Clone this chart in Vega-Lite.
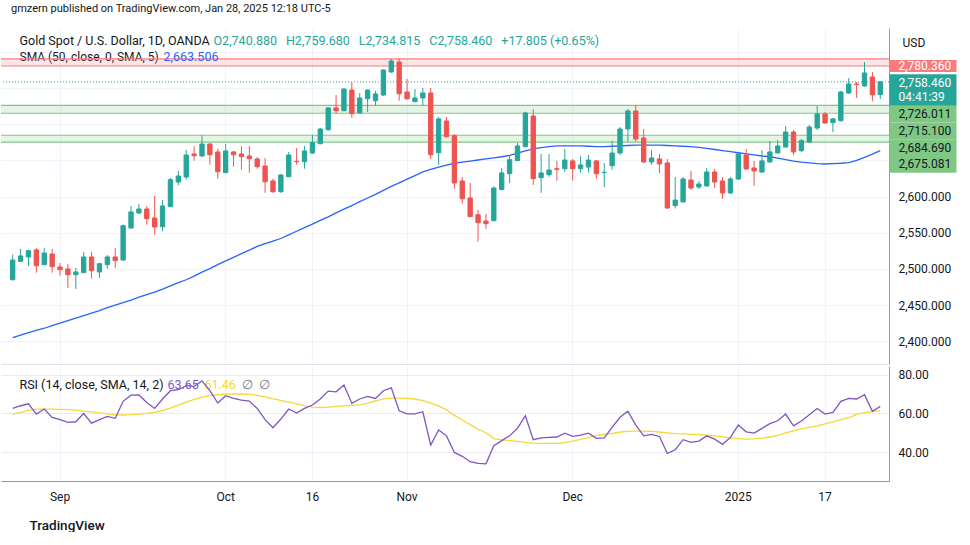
{
"$schema":"https://vega.github.io/schema/vega-lite/v6.json",
"background":"white",
"padding":{"left":0,"top":3,"right":0,"bottom":0},
"title":{"text":"gmzern published on TradingView.com, Jan 28, 2025 12:18 UTC-5","anchor":"start","dx":10,"fontSize":11,"font":"Roboto","fontWeight":"normal","color":"#131722","offset":14,"frame":"group"},
"spacing":2,
"config":{"view":{"stroke":null},"font":"Roboto","axis":{"labelFont":"Roboto","labelFontSize":12,"labelColor":"#131722","titleFont":"Roboto","titleFontWeight":"normal","titleFontSize":12.5,"ticks":false,"domain":false,"grid":false,"labelPadding":9},"title":{"font":"Roboto","fontWeight":"normal"}},
"datasets":{
"levels":[{"lo":2780.36,"hi":2790.1,"kind":"res"},{"lo":2715.1,"hi":2726.011,"kind":"sup"},{"lo":2675.081,"hi":2684.69,"kind":"sup"}],
"candles":[
{"d":"2024-08-23","o":2485.1,"h":2519.7,"l":2484.0,"c":2512.3,"sma":2405,"rsi":62.6,"rsima":59.7},
{"d":"2024-08-26","o":2510.5,"h":2527.5,"l":2509.6,"c":2517.9,"sma":2408.5,"rsi":64.0,"rsima":60.5},
{"d":"2024-08-27","o":2516.5,"h":2526.2,"l":2504.0,"c":2525.2,"sma":2412,"rsi":65.0,"rsima":61.7},
{"d":"2024-08-28","o":2526.2,"h":2528.9,"l":2494.8,"c":2504.4,"sma":2415,"rsi":59.7,"rsima":62.3},
{"d":"2024-08-29","o":2505.8,"h":2528.9,"l":2505.0,"c":2522.0,"sma":2418,"rsi":62.3,"rsima":62.3},
{"d":"2024-08-30","o":2520.6,"h":2527.5,"l":2494.8,"c":2503.1,"sma":2421.5,"rsi":58.0,"rsima":62.2},
{"d":"2024-09-02","o":2502.7,"h":2508.2,"l":2490.6,"c":2498.9,"sma":2425,"rsi":56.8,"rsima":62.1},
{"d":"2024-09-03","o":2499.9,"h":2506.8,"l":2473.6,"c":2492.0,"sma":2428.5,"rsi":55.4,"rsima":62.0},
{"d":"2024-09-04","o":2492.0,"h":2501.3,"l":2472.3,"c":2495.8,"sma":2432,"rsi":55.7,"rsima":61.7},
{"d":"2024-09-05","o":2494.8,"h":2523.4,"l":2494.4,"c":2516.5,"sma":2435.5,"rsi":60.0,"rsima":61.2},
{"d":"2024-09-06","o":2516.5,"h":2523.4,"l":2486.5,"c":2497.5,"sma":2439,"rsi":55.0,"rsima":60.8},
{"d":"2024-09-09","o":2495.8,"h":2508.2,"l":2487.5,"c":2507.2,"sma":2442.5,"rsi":56.8,"rsima":60.3},
{"d":"2024-09-10","o":2506.0,"h":2519.2,"l":2500.3,"c":2516.5,"sma":2446.5,"rsi":58.5,"rsima":59.8},
{"d":"2024-09-11","o":2516.5,"h":2528.9,"l":2501.3,"c":2511.4,"sma":2450,"rsi":57.5,"rsima":59.3},
{"d":"2024-09-12","o":2512.3,"h":2561.1,"l":2511.4,"c":2559.7,"sma":2453.5,"rsi":66.3,"rsima":59.2},
{"d":"2024-09-13","o":2556.5,"h":2587.0,"l":2556.0,"c":2578.7,"sma":2457,"rsi":69.5,"rsima":59.4},
{"d":"2024-09-16","o":2577.3,"h":2589.7,"l":2575.9,"c":2582.8,"sma":2461,"rsi":69.6,"rsima":59.7},
{"d":"2024-09-17","o":2582.8,"h":2587.0,"l":2561.1,"c":2569.4,"sma":2464.5,"rsi":65.7,"rsima":60.1},
{"d":"2024-09-18","o":2570.4,"h":2600.8,"l":2547.3,"c":2557.9,"sma":2468,"rsi":62.6,"rsima":60.6},
{"d":"2024-09-19","o":2558.3,"h":2595.2,"l":2552.0,"c":2587.0,"sma":2472,"rsi":67.5,"rsima":61.6},
{"d":"2024-09-20","o":2586.0,"h":2625.6,"l":2585.5,"c":2623.3,"sma":2476.5,"rsi":71.8,"rsima":62.8},
{"d":"2024-09-23","o":2620.1,"h":2635.3,"l":2615.7,"c":2628.4,"sma":2481,"rsi":72.3,"rsima":64.3},
{"d":"2024-09-24","o":2627.0,"h":2664.3,"l":2623.3,"c":2657.4,"sma":2485,"rsi":74.4,"rsima":65.9},
{"d":"2024-09-25","o":2658.8,"h":2669.4,"l":2649.5,"c":2656.5,"sma":2490,"rsi":74.0,"rsima":67.3},
{"d":"2024-09-26","o":2656.0,"h":2684.6,"l":2655.1,"c":2672.6,"sma":2495.5,"rsi":76.9,"rsima":68.5},
{"d":"2024-09-27","o":2672.6,"h":2674.0,"l":2644.0,"c":2657.8,"sma":2500.5,"rsi":71.8,"rsima":69.2},
{"d":"2024-09-30","o":2661.6,"h":2666.1,"l":2624.7,"c":2634.3,"sma":2506,"rsi":65.4,"rsima":69.7},
{"d":"2024-10-01","o":2633.0,"h":2672.6,"l":2632.5,"c":2663.0,"sma":2511,"rsi":69.2,"rsima":70.0},
{"d":"2024-10-02","o":2661.6,"h":2663.0,"l":2641.3,"c":2657.8,"sma":2516,"rsi":67.8,"rsima":70.1},
{"d":"2024-10-03","o":2658.8,"h":2669.9,"l":2637.1,"c":2655.1,"sma":2521,"rsi":66.9,"rsima":70.1},
{"d":"2024-10-04","o":2656.0,"h":2669.9,"l":2633.0,"c":2652.3,"sma":2526,"rsi":66.4,"rsima":69.9},
{"d":"2024-10-07","o":2651.9,"h":2654.7,"l":2638.5,"c":2641.3,"sma":2531,"rsi":62.6,"rsima":69.4},
{"d":"2024-10-08","o":2642.2,"h":2653.3,"l":2605.1,"c":2620.5,"sma":2535,"rsi":56.8,"rsima":68.6},
{"d":"2024-10-09","o":2621.5,"h":2624.7,"l":2605.1,"c":2606.7,"sma":2538.5,"rsi":52.6,"rsima":67.6},
{"d":"2024-10-10","o":2606.7,"h":2631.2,"l":2605.1,"c":2629.8,"sma":2542,"rsi":57.1,"rsima":66.8},
{"d":"2024-10-11","o":2627.4,"h":2661.6,"l":2627.0,"c":2657.4,"sma":2547,"rsi":62.3,"rsima":65.9},
{"d":"2024-10-14","o":2648.7,"h":2667.1,"l":2644.0,"c":2648.2,"sma":2552,"rsi":60.2,"rsima":65.0},
{"d":"2024-10-15","o":2648.2,"h":2669.9,"l":2638.5,"c":2663.0,"sma":2557,"rsi":62.6,"rsima":64.1},
{"d":"2024-10-16","o":2660.2,"h":2685.5,"l":2658.8,"c":2674.4,"sma":2562,"rsi":64.4,"rsima":63.3},
{"d":"2024-10-17","o":2673.1,"h":2695.0,"l":2672.0,"c":2693.3,"sma":2567,"rsi":67.5,"rsima":63.1},
{"d":"2024-10-18","o":2692.4,"h":2723.0,"l":2691.0,"c":2722.4,"sma":2572,"rsi":71.6,"rsima":63.3},
{"d":"2024-10-21","o":2722.4,"h":2740.3,"l":2714.5,"c":2718.6,"sma":2577.5,"rsi":71.2,"rsima":63.6},
{"d":"2024-10-22","o":2718.6,"h":2749.5,"l":2718.0,"c":2748.6,"sma":2582.5,"rsi":74.7,"rsima":63.9},
{"d":"2024-10-23","o":2747.2,"h":2757.9,"l":2709.0,"c":2714.5,"sma":2587.5,"rsi":65.2,"rsima":64.2},
{"d":"2024-10-24","o":2715.5,"h":2743.1,"l":2715.0,"c":2736.2,"sma":2593,"rsi":67.5,"rsima":64.5},
{"d":"2024-10-25","o":2735.2,"h":2747.8,"l":2716.8,"c":2747.2,"sma":2598,"rsi":68.8,"rsima":65.4},
{"d":"2024-10-28","o":2732.5,"h":2745.9,"l":2725.5,"c":2741.7,"sma":2603,"rsi":67.8,"rsima":66.5},
{"d":"2024-10-29","o":2740.3,"h":2775.5,"l":2739.0,"c":2774.9,"sma":2608.5,"rsi":71.8,"rsima":67.6},
{"d":"2024-10-30","o":2772.1,"h":2790.1,"l":2770.7,"c":2787.3,"sma":2614,"rsi":73.3,"rsima":67.9},
{"d":"2024-10-31","o":2785.9,"h":2790.1,"l":2732.5,"c":2742.1,"sma":2619,"rsi":61.4,"rsima":67.9},
{"d":"2024-11-01","o":2744.5,"h":2762.4,"l":2733.8,"c":2735.2,"sma":2624,"rsi":59.8,"rsima":67.8},
{"d":"2024-11-04","o":2731.1,"h":2748.6,"l":2730.5,"c":2736.2,"sma":2629,"rsi":59.8,"rsima":67.5},
{"d":"2024-11-05","o":2736.2,"h":2750.0,"l":2725.5,"c":2743.1,"sma":2634,"rsi":60.9,"rsima":66.6},
{"d":"2024-11-06","o":2743.1,"h":2750.0,"l":2651.9,"c":2657.8,"sma":2637.5,"rsi":43.6,"rsima":65.4},
{"d":"2024-11-07","o":2660.6,"h":2709.9,"l":2643.6,"c":2707.2,"sma":2640.5,"rsi":51.5,"rsima":63.9},
{"d":"2024-11-08","o":2704.4,"h":2709.9,"l":2681.4,"c":2682.7,"sma":2643.5,"rsi":48.4,"rsima":61.9},
{"d":"2024-11-11","o":2684.1,"h":2686.4,"l":2610.8,"c":2618.7,"sma":2646,"rsi":39.8,"rsima":59.0},
{"d":"2024-11-12","o":2621.5,"h":2627.0,"l":2590.1,"c":2597.0,"sma":2647.5,"rsi":37.8,"rsima":56.6},
{"d":"2024-11-13","o":2598.0,"h":2618.7,"l":2572.0,"c":2572.2,"sma":2649,"rsi":35.0,"rsima":54.2},
{"d":"2024-11-14","o":2574.9,"h":2581.8,"l":2537.6,"c":2563.9,"sma":2650.5,"rsi":34.1,"rsima":51.8},
{"d":"2024-11-15","o":2566.2,"h":2575.9,"l":2555.6,"c":2562.5,"sma":2652,"rsi":33.9,"rsima":50.0},
{"d":"2024-11-18","o":2566.6,"h":2614.2,"l":2566.0,"c":2611.8,"sma":2653.5,"rsi":43.3,"rsima":47.0},
{"d":"2024-11-19","o":2609.5,"h":2639.5,"l":2609.0,"c":2632.6,"sma":2655,"rsi":45.9,"rsima":46.3},
{"d":"2024-11-20","o":2631.6,"h":2656.4,"l":2618.7,"c":2650.9,"sma":2657,"rsi":48.4,"rsima":45.9},
{"d":"2024-11-21","o":2649.7,"h":2674.0,"l":2649.0,"c":2669.9,"sma":2660,"rsi":52.3,"rsima":45.5},
{"d":"2024-11-22","o":2668.9,"h":2717.3,"l":2668.0,"c":2715.5,"sma":2663,"rsi":58.8,"rsima":45.0},
{"d":"2024-11-25","o":2711.3,"h":2721.0,"l":2616.0,"c":2624.7,"sma":2666,"rsi":46.4,"rsima":44.6},
{"d":"2024-11-26","o":2626.1,"h":2658.8,"l":2605.1,"c":2632.6,"sma":2667.5,"rsi":47.3,"rsima":44.5},
{"d":"2024-11-27","o":2630.2,"h":2658.8,"l":2627.4,"c":2636.7,"sma":2669,"rsi":47.6,"rsima":44.5},
{"d":"2024-11-28","o":2638.5,"h":2649.2,"l":2621.9,"c":2637.6,"sma":2670,"rsi":47.8,"rsima":44.5},
{"d":"2024-11-29","o":2638.5,"h":2665.7,"l":2634.3,"c":2650.5,"sma":2670,"rsi":49.8,"rsima":44.9},
{"d":"2024-12-02","o":2649.2,"h":2651.9,"l":2621.9,"c":2638.5,"sma":2670,"rsi":48.1,"rsima":45.7},
{"d":"2024-12-03","o":2638.5,"h":2655.9,"l":2633.0,"c":2643.6,"sma":2670,"rsi":48.8,"rsima":46.6},
{"d":"2024-12-04","o":2640.8,"h":2657.4,"l":2633.0,"c":2650.5,"sma":2669.5,"rsi":49.8,"rsima":47.6},
{"d":"2024-12-05","o":2649.2,"h":2650.5,"l":2624.7,"c":2631.6,"sma":2669,"rsi":47.1,"rsima":48.5},
{"d":"2024-12-06","o":2633.0,"h":2646.3,"l":2613.2,"c":2633.5,"sma":2669,"rsi":47.3,"rsima":49.1},
{"d":"2024-12-09","o":2642.6,"h":2677.2,"l":2637.1,"c":2660.2,"sma":2669.5,"rsi":52.8,"rsima":49.7},
{"d":"2024-12-10","o":2660.2,"h":2696.1,"l":2657.4,"c":2693.3,"sma":2670,"rsi":58.0,"rsima":50.4},
{"d":"2024-12-11","o":2693.3,"h":2721.0,"l":2675.8,"c":2718.2,"sma":2670.5,"rsi":61.2,"rsima":50.7},
{"d":"2024-12-12","o":2718.2,"h":2726.5,"l":2675.8,"c":2679.5,"sma":2671,"rsi":54.0,"rsima":50.8},
{"d":"2024-12-13","o":2680.9,"h":2693.3,"l":2646.4,"c":2647.8,"sma":2671,"rsi":48.4,"rsima":50.8},
{"d":"2024-12-16","o":2647.8,"h":2664.3,"l":2643.6,"c":2653.3,"sma":2671,"rsi":49.2,"rsima":50.7},
{"d":"2024-12-17","o":2651.9,"h":2658.8,"l":2632.5,"c":2645.0,"sma":2671,"rsi":48.1,"rsima":50.4},
{"d":"2024-12-18","o":2646.4,"h":2651.9,"l":2583.0,"c":2584.2,"sma":2670.5,"rsi":39.3,"rsima":49.9},
{"d":"2024-12-19","o":2587.5,"h":2627.0,"l":2583.5,"c":2595.2,"sma":2670,"rsi":41.2,"rsima":49.6},
{"d":"2024-12-20","o":2592.5,"h":2627.0,"l":2592.0,"c":2624.3,"sma":2669.5,"rsi":46.4,"rsima":49.4},
{"d":"2024-12-23","o":2622.9,"h":2635.3,"l":2609.1,"c":2611.8,"sma":2669,"rsi":45.0,"rsima":49.2},
{"d":"2024-12-24","o":2613.2,"h":2621.5,"l":2610.4,"c":2617.3,"sma":2668,"rsi":45.7,"rsima":49.0},
{"d":"2024-12-26","o":2614.6,"h":2639.5,"l":2614.0,"c":2633.9,"sma":2666.5,"rsi":48.4,"rsima":48.8},
{"d":"2024-12-27","o":2633.9,"h":2638.1,"l":2611.8,"c":2620.1,"sma":2665,"rsi":46.7,"rsima":48.4},
{"d":"2024-12-30","o":2621.5,"h":2627.0,"l":2596.6,"c":2604.9,"sma":2663.5,"rsi":44.0,"rsima":47.9},
{"d":"2024-12-31","o":2604.9,"h":2627.0,"l":2603.5,"c":2624.3,"sma":2662,"rsi":47.6,"rsima":47.4},
{"d":"2025-01-02","o":2624.3,"h":2660.2,"l":2623.0,"c":2658.8,"sma":2660.5,"rsi":54.0,"rsima":47.0},
{"d":"2025-01-03","o":2657.4,"h":2665.7,"l":2636.7,"c":2638.1,"sma":2659,"rsi":50.5,"rsima":46.7},
{"d":"2025-01-06","o":2639.5,"h":2649.2,"l":2614.6,"c":2635.3,"sma":2657.5,"rsi":49.8,"rsima":46.8},
{"d":"2025-01-07","o":2633.9,"h":2664.3,"l":2632.5,"c":2649.2,"sma":2656,"rsi":52.3,"rsima":47.2},
{"d":"2025-01-08","o":2647.8,"h":2676.8,"l":2646.4,"c":2661.6,"sma":2655,"rsi":54.7,"rsima":47.8},
{"d":"2025-01-09","o":2660.2,"h":2678.2,"l":2660.0,"c":2669.9,"sma":2653,"rsi":56.2,"rsima":48.7},
{"d":"2025-01-10","o":2668.5,"h":2697.5,"l":2668.0,"c":2689.2,"sma":2651,"rsi":59.7,"rsima":49.9},
{"d":"2025-01-13","o":2689.2,"h":2691.9,"l":2657.4,"c":2661.6,"sma":2649,"rsi":53.6,"rsima":51.0},
{"d":"2025-01-14","o":2663.4,"h":2679.5,"l":2661.6,"c":2677.2,"sma":2647.5,"rsi":56.1,"rsima":52.0},
{"d":"2025-01-15","o":2675.4,"h":2698.9,"l":2674.0,"c":2696.1,"sma":2646.5,"rsi":59.3,"rsima":52.8},
{"d":"2025-01-16","o":2694.7,"h":2725.1,"l":2691.9,"c":2714.1,"sma":2645.5,"rsi":62.6,"rsima":53.6},
{"d":"2025-01-17","o":2714.1,"h":2716.8,"l":2701.0,"c":2701.6,"sma":2645,"rsi":59.7,"rsima":54.6},
{"d":"2025-01-20","o":2702.1,"h":2708.5,"l":2689.2,"c":2707.2,"sma":2645.5,"rsi":60.6,"rsima":55.7},
{"d":"2025-01-21","o":2704.8,"h":2745.9,"l":2703.5,"c":2744.5,"sma":2646,"rsi":66.3,"rsima":56.8},
{"d":"2025-01-22","o":2743.1,"h":2763.8,"l":2741.7,"c":2755.5,"sma":2647,"rsi":67.8,"rsima":57.9},
{"d":"2025-01-23","o":2755.5,"h":2758.3,"l":2736.2,"c":2754.7,"sma":2650,"rsi":67.5,"rsima":59.5},
{"d":"2025-01-24","o":2752.8,"h":2785.9,"l":2752.0,"c":2770.7,"sma":2654,"rsi":69.7,"rsima":60.4},
{"d":"2025-01-27","o":2765.2,"h":2772.1,"l":2731.6,"c":2740.66,"sma":2658.5,"rsi":61.1,"rsima":61.0},
{"d":"2025-01-28","o":2740.88,"h":2759.68,"l":2734.815,"c":2758.46,"sma":2663.506,"rsi":63.65,"rsima":61.46}
]},
"vconcat":[
{
"width":888,"height":336,
"resolve":{"axis":{"x":"independent","y":"independent"}},
"layer":[
{"data":{"name":"levels"},"mark":{"type":"rect","opacity":0.2},
 "encoding":{"y":{"field":"lo","type":"quantitative","scale":{"domain":[2368.6,2832.9],"nice":false,"zero":false},"axis":null},"y2":{"field":"hi"},
 "fill":{"condition":{"test":"datum.kind == 'res'","value":"#f77c80"},"value":"#81c784"}}},
{"data":{"name":"levels"},"mark":{"type":"rule","strokeWidth":1.2},
 "encoding":{"y":{"field":"lo","type":"quantitative","scale":{"domain":[2368.6,2832.9],"nice":false,"zero":false},"axis":null},
 "color":{"condition":{"test":"datum.kind == 'res'","value":"#f77c80"},"value":"#81c784"}}},
{"data":{"name":"levels"},"mark":{"type":"rule","strokeWidth":1.2},
 "encoding":{"y":{"field":"hi","type":"quantitative","scale":{"domain":[2368.6,2832.9],"nice":false,"zero":false},"axis":null},
 "color":{"condition":{"test":"datum.kind == 'res'","value":"#f77c80"},"value":"#81c784"}}},
{"data":{"name":"candles"},"mark":{"type":"line","color":"#2962ff","strokeWidth":1.3},
 "encoding":{
 "x":{"field":"d","type":"ordinal","scale":{"type":"band","paddingInner":0,"paddingOuter":0.795,"align":0.619},
  "axis":{"orient":"bottom","values":["2024-09-02","2024-10-01","2024-10-16","2024-11-01","2024-12-02","2025-01-02","2025-01-17"],"bandPosition":0.5,"labels":false,"grid":true,"gridColor":"#f0f3fa","domain":true,"domainColor":"#e0e3eb",
  "title":"O2,740.880\u2002\u2009H2,759.680\u2002\u2009L2,734.815\u2002\u2009C2,758.460\u2002\u2009+17.805 (+0.65%)","titleX":212,"titleY":-323.5,"titleAlign":"left","titleBaseline":"middle","titleAngle":0,"titleColor":"#26a69a","titleFontSize":12.5}},
 "y":{"field":"sma","type":"quantitative","scale":{"domain":[2368.6,2832.9],"nice":false,"zero":false},
  "axis":{"orient":"right","values":[2400,2450,2500,2550,2600,2650,2700,2750,2800],"labelExpr":"datum.value <= 2600 ? format(datum.value, ',.3f') : ''","grid":true,"gridColor":"#f0f3fa","domain":true,"domainColor":"#9598a1","labelAlign":"left","labelBaseline":"middle","labelOverlap":false,
  "title":"USD","titleX":13,"titleY":14,"titleAngle":0,"titleAlign":"left","titleBaseline":"middle","titleColor":"#131722","titleFontSize":12}}}},
{"data":{"name":"candles"},"transform":[{"filter":"datum.d == '2025-01-28'"}],"mark":{"type":"rule","color":"#26a69a","strokeDash":[1,2],"strokeWidth":1},
 "encoding":{"y":{"field":"c","type":"quantitative","scale":{"domain":[2368.6,2832.9],"nice":false,"zero":false},
  "axis":{"orient":"right","zindex":1,"values":[2781.09,2747.93,2714.56,2691.48,2668.41,2645.33],
  "labelExpr":"datum.value > 2770 ? '2,780.360' : datum.value > 2730 ? ['2,758.460', '04:41:39'] : datum.value > 2700 ? '2,726.011' : datum.value > 2680 ? '2,715.100' : datum.value > 2655 ? '2,684.690' : '2,675.081'",
  "ticks":true,"tickSize":67,"tickCap":"butt","tickRound":false,
  "tickWidth":{"condition":[{"test":"datum.value > 2770","value":12},{"test":"datum.value > 2730","value":31.6}],"value":16.8},
  "tickColor":{"condition":[{"test":"datum.value > 2770","value":"#f77c80"},{"test":"datum.value > 2730","value":"#26a69a"}],"value":"#81c784"},
  "labelPadding":-58,"labelAlign":"left","labelBaseline":"middle","labelLineHeight":13.4,"labelOverlap":false,
  "labelOffset":{"condition":{"test":"datum.value > 2730 && datum.value < 2770","value":-6.7},"value":0},
  "labelColor":{"condition":{"test":"datum.value > 2730","value":"#ffffff"},"value":"#131722"},
  "grid":false,"domain":false,
  "title":"2,663.506","titleX":-726,"titleY":28.3,"titleAngle":0,"titleAlign":"left","titleBaseline":"middle","titleColor":"#2962ff","titleFontSize":12.5}}}},
{"data":{"name":"candles"},"mark":{"type":"rule","strokeWidth":1},
 "encoding":{
 "x":{"field":"d","type":"ordinal","scale":{"type":"band","paddingInner":0,"paddingOuter":0.795,"align":0.619},
  "axis":{"orient":"bottom","labels":false,"grid":false,"domain":false,"title":"Gold Spot / U.S. Dollar, 1D, OANDA","titleX":18,"titleY":-323.5,"titleAlign":"left","titleBaseline":"middle","titleAngle":0,"titleColor":"#131722","titleFontSize":12.5}},
 "y":{"field":"l","type":"quantitative","scale":{"domain":[2368.6,2832.9],"nice":false,"zero":false},"axis":null},"y2":{"field":"h"},
 "color":{"condition":{"test":"datum.c >= datum.o","value":"#26a69a"},"value":"#ef5350"}}},
{"data":{"name":"candles"},"mark":{"type":"bar","width":{"band":0.55},"strokeWidth":1},
 "encoding":{
 "x":{"field":"d","type":"ordinal","scale":{"type":"band","paddingInner":0,"paddingOuter":0.795,"align":0.619},
  "axis":{"orient":"bottom","labels":false,"grid":false,"domain":false,"title":"SMA (50, close, 0, SMA, 5)","titleX":18,"titleY":-307.7,"titleAlign":"left","titleBaseline":"middle","titleAngle":0,"titleColor":"#131722","titleFontSize":12}},
 "y":{"field":"o","type":"quantitative","scale":{"domain":[2368.6,2832.9],"nice":false,"zero":false},"axis":null},"y2":{"field":"c"},
 "fill":{"condition":{"test":"datum.c >= datum.o","value":"#26a69a"},"value":"#ef5350"},
 "stroke":{"condition":{"test":"datum.c >= datum.o","value":"#26a69a"},"value":"#ef5350"}}}
]},
{
"width":888,"height":115,
"resolve":{"axis":{"x":"independent","y":"independent"}},
"layer":[
{"mark":{"type":"rect","fill":"#7e57c2","opacity":0.1},
 "encoding":{"y":{"datum":70,"type":"quantitative","scale":{"domain":[25,84.6],"nice":false,"zero":false},
  "axis":{"orient":"right","labels":false,"grid":false,"domain":false,"title":"RSI (14, close, SMA, 14, 2)","titleX":-870,"titleY":18,"titleAngle":0,"titleAlign":"left","titleBaseline":"middle","titleColor":"#131722","titleFontSize":12.5}},"y2":{"datum":30}}},
{"mark":{"type":"rule","color":"#787b86","strokeDash":[4,3],"strokeWidth":1},
 "encoding":{"y":{"datum":70,"type":"quantitative","scale":{"domain":[25,84.6],"nice":false,"zero":false},"axis":null}}},
{"mark":{"type":"rule","color":"#787b86","strokeDash":[4,3],"strokeWidth":1},
 "encoding":{"y":{"datum":30,"type":"quantitative","scale":{"domain":[25,84.6],"nice":false,"zero":false},"axis":null}}},
{"mark":{"type":"rule","color":"#787b86","opacity":0.5,"strokeDash":[4,4],"strokeWidth":1},
 "encoding":{"y":{"datum":50,"type":"quantitative","scale":{"domain":[25,84.6],"nice":false,"zero":false},
  "axis":{"orient":"right","labels":false,"grid":false,"domain":false,"title":"∅\u2002∅","titleX":-648,"titleY":18,"titleAngle":0,"titleAlign":"left","titleBaseline":"middle","titleColor":"#787b86","titleFontSize":12.5}}}},
{"data":{"name":"candles"},"mark":{"type":"line","color":"#f5d835","strokeWidth":1.3},
 "encoding":{
 "x":{"field":"d","type":"ordinal","scale":{"type":"band","paddingInner":0,"paddingOuter":0.795,"align":0.619},"axis":null},
 "y":{"field":"rsima","type":"quantitative","scale":{"domain":[25,84.6],"nice":false,"zero":false},
  "axis":{"orient":"right","labels":false,"grid":false,"domain":false,"title":"61.46","titleX":-685,"titleY":18,"titleAngle":0,"titleAlign":"left","titleBaseline":"middle","titleColor":"#f5d835","titleFontSize":12.5}}}},
{"data":{"name":"candles"},"mark":{"type":"line","color":"#7e57c2","strokeWidth":1.3},
 "encoding":{
 "x":{"field":"d","type":"ordinal","scale":{"type":"band","paddingInner":0,"paddingOuter":0.795,"align":0.619},
  "axis":{"orient":"bottom","values":["2024-09-02","2024-10-01","2024-10-16","2024-11-01","2024-12-02","2025-01-02","2025-01-17"],"bandPosition":0.5,
  "labelExpr":"datum.value == '2024-09-02' ? 'Sep' : datum.value == '2024-10-01' ? 'Oct' : datum.value == '2024-10-16' ? '16' : datum.value == '2024-11-01' ? 'Nov' : datum.value == '2024-12-02' ? 'Dec' : datum.value == '2025-01-02' ? '2025' : '17'",
  "labelAngle":0,"labelPadding":10,"labelBaseline":"top","labelAlign":"center","grid":true,"gridColor":"#f0f3fa","domain":true,"domainColor":"#9598a1",
  "title":"TradingView","titleX":28,"titleY":44,"titleAlign":"left","titleBaseline":"middle","titleAngle":0,"titleColor":"#131722","titleFontSize":13.5,"titleFontWeight":500}},
 "y":{"field":"rsi","type":"quantitative","scale":{"domain":[25,84.6],"nice":false,"zero":false},
  "axis":{"orient":"right","values":[40,60,80],"format":".2f","grid":true,"gridColor":"#ebe7f5","domain":true,"domainColor":"#9598a1","labelAlign":"left","labelBaseline":"middle",
  "title":"63.65","titleX":-722,"titleY":18,"titleAngle":0,"titleAlign":"left","titleBaseline":"middle","titleColor":"#7e57c2","titleFontSize":12.5}}}}
]}
]
}
